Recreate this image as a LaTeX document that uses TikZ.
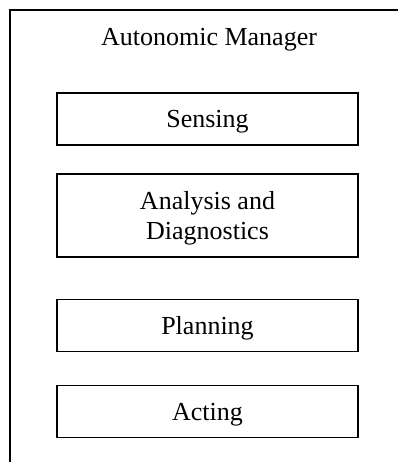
\documentclass[tikz,border=0pt]{standalone}
\usepackage{fontspec}
\setmainfont{Liberation Serif}
\usepackage{tikz}
\usetikzlibrary{positioning}

\begin{document}
\begin{tikzpicture}[x=1pt,y=-1pt,
  stage/.style={draw,line width=1.8pt,minimum width=301pt,align=center,
    font=\fontsize{26}{30}\selectfont,inner sep=0pt,text depth=0pt}]
  \useasboundingbox (0,0) rectangle (398,462);
  % 外框
  \draw[line width=2pt] (398,10) -- (10,10) -- (10,462);
  \node[font=\fontsize{26}{30}\selectfont,anchor=base] (title) at (209,46) {Autonomic Manager};
  % 各阶段
  \node[stage,minimum height=52pt] (sensing) at (207.5,119) {Sensing};
  \node[stage,minimum height=83pt] (analysis) at (207.5,215.5) {Analysis and\\Diagnostics};
  \node[stage,minimum height=52pt] (planning) at (207.5,325.5) {Planning};
  \node[stage,minimum height=52pt] (acting) at (207.5,411.5) {Acting};
\end{tikzpicture}
\end{document}
